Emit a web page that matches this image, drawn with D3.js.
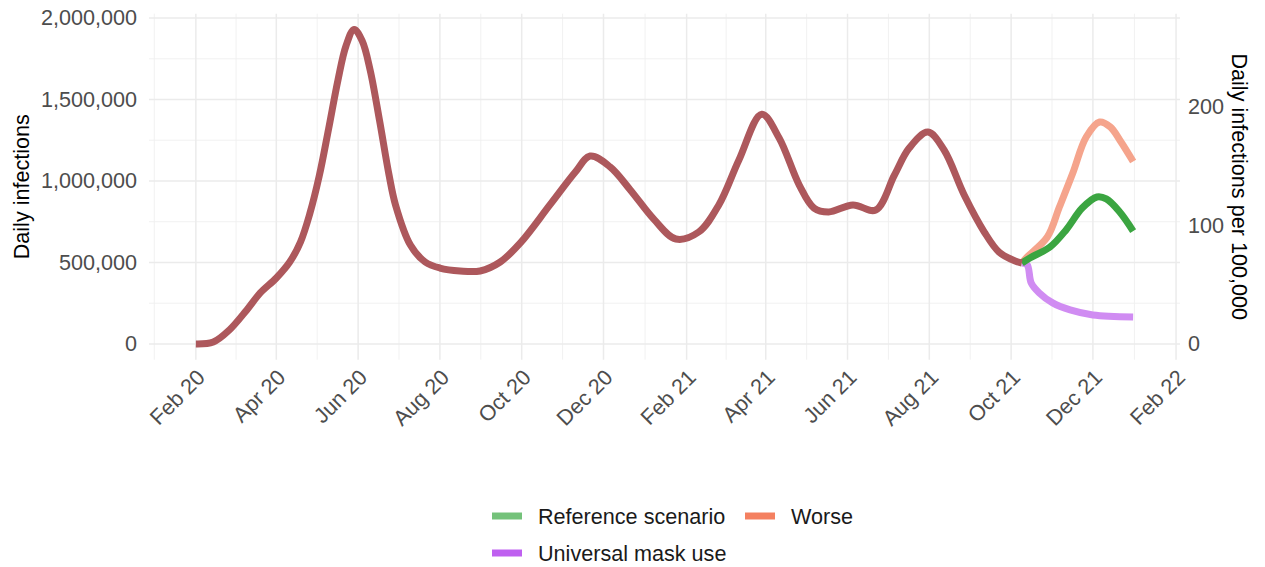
<!DOCTYPE html>
<html>
<head>
<meta charset="utf-8">
<script src="https://cdn.jsdelivr.net/npm/d3@7"></script>
<style>
  body { margin: 0; background: #fff; }
  svg { font-family: "Liberation Sans", Arial, sans-serif; }
  .grid-major { stroke: #ebebeb; stroke-width: 1.5; }
  .grid-minor { stroke: #efefef; stroke-width: 0.9; }
  .tick text { fill: #4d4d4d; font-size: 21.6px; }
</style>
</head>
<body>
<script>
var svgwidth = 1265, svgheight = 567;
var margin = { top: 13.7, right: 85, bottom: 207.3, left: 149 };
var width = svgwidth - margin.left - margin.right;
var height = svgheight - margin.top - margin.bottom;

// population used by the secondary axis (per 100,000)
var population = 727000000;

// history (observed + modelled past)
var histDates = ["2020-02-01","2020-02-14","2020-02-26","2020-03-10","2020-03-20","2020-04-01","2020-04-11",
  "2020-04-19","2020-04-26","2020-05-03","2020-05-10","2020-05-17","2020-05-23","2020-05-29","2020-06-04",
  "2020-06-10","2020-06-17","2020-06-24","2020-06-29","2020-07-10","2020-07-21","2020-08-01","2020-08-16",
  "2020-08-31","2020-09-15","2020-09-30","2020-10-22","2020-11-10","2020-11-21","2020-12-06","2020-12-21",
  "2021-01-08","2021-01-24","2021-02-10","2021-02-25","2021-03-12","2021-03-29","2021-04-11","2021-04-26",
  "2021-05-07","2021-05-18","2021-06-05","2021-06-22","2021-07-06","2021-07-17","2021-07-31","2021-08-12",
  "2021-08-27","2021-09-11","2021-09-22","2021-10-04","2021-10-09"];
var histValues = [0, 12000, 86000, 209000, 313000, 405000, 503000,
  625000, 800000, 1030000, 1320000, 1620000, 1830000, 1930000, 1860000,
  1680000, 1370000, 1040000, 850000, 607000, 503000, 466000, 448000,
  448000, 503000, 620000, 853000, 1055000, 1153000, 1086000, 945000,
  761000, 644000, 687000, 853000, 1129000, 1410000, 1264000, 975000,
  834000, 810000, 853000, 822000, 1037000, 1202000, 1300000, 1190000,
  914000, 687000, 564000, 509000, 497000];

// projections
var refDates = ["2021-10-09","2021-10-15","2021-10-30","2021-11-11","2021-11-23","2021-12-04","2021-12-11","2021-12-21","2021-12-31"];
var refValues = [497000, 528000, 595000, 700000, 834000, 902000, 890000, 810000, 693000];

var worseDates = ["2021-10-09","2021-10-13","2021-10-28","2021-11-06","2021-11-16","2021-11-26","2021-12-06","2021-12-14","2021-12-21","2021-12-31"];
var worseValues = [497000, 534000, 656000, 840000, 1049000, 1270000, 1362000, 1331000, 1252000, 1120000];

var maskDates = ["2021-10-09","2021-10-13","2021-10-16","2021-10-22","2021-11-01","2021-11-14","2021-12-01","2021-12-31"];
var maskValues = [497000, 485000, 374000, 313000, 252000, 209000, 178000, 166000];

var xTickLabels = ["Feb 20","Apr 20","Jun 20","Aug 20","Oct 20","Dec 20","Feb 21","Apr 21","Jun 21","Aug 21","Oct 21","Dec 21","Feb 22"];
var yTicks = [0, 500000, 1000000, 1500000, 2000000];
var yRightTicks = [0, 100, 200];

var legendNames = ["Reference scenario", "Worse", "Universal mask use"];
var legendColors = ["#74c27a", "#f48060", "#bf60f0"];

var parseTime = d3.timeParse("%Y-%m-%d");
var parseLabel = d3.timeParse("%b %y");

function makeSeries(dates, values) {
  return dates.map(function(d, i) { return { date: parseTime(d), value: values[i] }; });
}
var histData = makeSeries(histDates, histValues);
var series = [
  { name: "Universal mask use", color: "#d08cf2", data: makeSeries(maskDates, maskValues) },
  { name: "Worse", color: "#f5a48c", data: makeSeries(worseDates, worseValues) },
  { name: "Reference scenario", color: "#3ba541", data: makeSeries(refDates, refValues) }
];

// ggplot-like 5% expansion of the data range
var allPts = histData.concat(series[0].data, series[1].data, series[2].data);
var xExt = d3.extent(allPts, function(d) { return d.date; });
var xPad = (xExt[1] - xExt[0]) * 0.05;
var yMax = d3.max(allPts, function(d) { return d.value; });

var x = d3.scaleTime()
  .domain([new Date(+xExt[0] - xPad), new Date(+xExt[1] + xPad)])
  .range([0, width]);
var y = d3.scaleLinear()
  .domain([-yMax * 0.05, yMax * 1.05])
  .range([height, 0]);
var yRight = d3.scaleLinear()
  .domain(y.domain().map(function(v) { return v / population * 100000; }))
  .range([height, 0]);

var svg = d3.select("body").append("svg")
    .attr("width", svgwidth)
    .attr("height", svgheight)
  .append("g")
    .attr("transform", "translate(" + margin.left + "," + margin.top + ")");

// grid (minor breaks halfway between the major ones, one extra on the left)
var xMajor = xTickLabels.map(function(s) { return parseLabel(s); });
var xMinor = d3.pairs([d3.timeMonth.offset(xMajor[0], -2)].concat(xMajor))
  .map(function(p) { return new Date((+p[0] + +p[1]) / 2); })
  .filter(function(d) { return d >= x.domain()[0]; });
var yMinor = d3.pairs(yTicks).map(function(p) { return (p[0] + p[1]) / 2; });

svg.selectAll(".ymin").data(yMinor).enter().append("line")
  .attr("class", "grid-minor")
  .attr("x1", 0).attr("x2", width)
  .attr("y1", y).attr("y2", y);
svg.selectAll(".xmin").data(xMinor).enter().append("line")
  .attr("class", "grid-minor")
  .attr("y1", 0).attr("y2", height)
  .attr("x1", x).attr("x2", x);
svg.selectAll(".ymaj").data(yTicks).enter().append("line")
  .attr("class", "grid-major")
  .attr("x1", 0).attr("x2", width)
  .attr("y1", y).attr("y2", y);
svg.selectAll(".xmaj").data(xMajor).enter().append("line")
  .attr("class", "grid-major")
  .attr("y1", 0).attr("y2", height)
  .attr("x1", x).attr("x2", x);

// lines
var valueline = d3.line()
  .curve(d3.curveCatmullRom.alpha(0.5))
  .x(function(d) { return x(d.date); })
  .y(function(d) { return y(d.value); });

svg.selectAll(".scen").data(series).enter().append("path")
  .attr("fill", "none")
  .attr("stroke", function(d) { return d.color; })
  .attr("stroke-width", 7)
  .attr("stroke-linejoin", "round")
  .attr("d", function(d) { return valueline(d.data); });

svg.append("path")
  .datum(histData)
  .attr("fill", "none")
  .attr("stroke", "#ad585c")
  .attr("stroke-width", 7)
  .attr("stroke-linejoin", "round")
  .attr("d", valueline);

// axes
var xAxis = svg.append("g")
  .attr("transform", "translate(0," + height + ")")
  .call(d3.axisBottom(x).tickValues(xMajor).tickSize(0).tickFormat(d3.timeFormat("%b %y")));
xAxis.select(".domain").remove();
xAxis.selectAll("text")
  .attr("text-anchor", "end")
  .attr("dy", null)
  .attr("y", 0)
  .attr("transform", "translate(10,19) rotate(-45)");

var yAxis = svg.append("g")
  .call(d3.axisLeft(y).tickValues(yTicks).tickSize(0).tickPadding(12).tickFormat(d3.format(",")));
yAxis.select(".domain").remove();

var yAxisR = svg.append("g")
  .attr("transform", "translate(" + width + ",0)")
  .call(d3.axisRight(yRight).tickValues(yRightTicks).tickSize(0).tickPadding(8));
yAxisR.select(".domain").remove();

// axis titles
svg.append("text")
  .attr("transform", "translate(" + (29 - margin.left) + "," + (height / 2) + ") rotate(-90)")
  .attr("text-anchor", "middle")
  .style("font-size", "21.6px")
  .text("Daily infections");

svg.append("text")
  .attr("transform", "translate(" + (1232 - margin.left) + "," + (height / 2) + ") rotate(90)")
  .attr("text-anchor", "middle")
  .style("font-size", "21.6px")
  .text("Daily infections per 100,000");

// legend
var legendPos = [[492, 516], [745, 516], [492, 553]];
var legend = d3.select("svg").append("g");
legendNames.forEach(function(name, i) {
  var g = legend.append("g").attr("transform", "translate(" + legendPos[i][0] + "," + legendPos[i][1] + ")");
  g.append("line")
    .attr("x1", 0).attr("x2", 30)
    .attr("stroke", legendColors[i])
    .attr("stroke-width", 7);
  g.append("text")
    .attr("x", 46)
    .attr("y", 8)
    .style("font-size", "21.6px")
    .attr("fill", "#1a1a1a")
    .text(name);
});
</script>
</body>
</html>
